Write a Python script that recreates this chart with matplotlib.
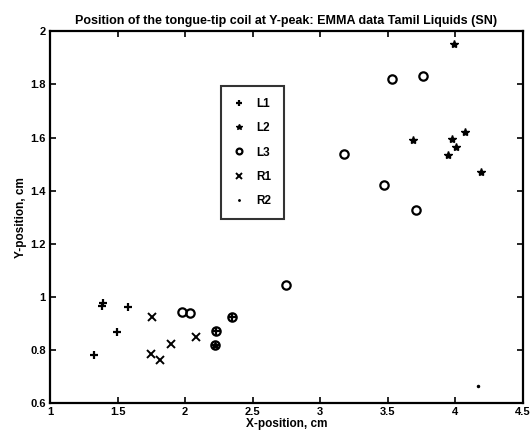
import matplotlib
matplotlib.use("Agg")
import matplotlib.pyplot as plt

# tongue-tip coil positions (cm)
l1_x = [1.325, 1.382, 1.394, 1.498, 1.574, 2.232, 2.347]
l1_y = [0.781, 0.964, 0.975, 0.866, 0.963, 0.869, 0.922]

l2_x = [3.986, 3.683, 3.974, 4.067, 4.003, 3.947, 4.190, 2.221]
l2_y = [1.953, 1.589, 1.596, 1.620, 1.566, 1.533, 1.469, 0.817]

l3_x = [3.531, 3.762, 3.174, 3.474, 3.705, 2.743, 1.977, 2.034, 2.347, 2.231, 2.221]
l3_y = [1.822, 1.832, 1.538, 1.421, 1.326, 1.046, 0.942, 0.939, 0.922, 0.869, 0.817]

r1_x = [1.756, 1.751, 1.818, 1.894, 2.083]
r1_y = [0.924, 0.786, 0.762, 0.820, 0.849]

r2_x = [4.168]
r2_y = [0.662]

x_ticks = [1, 1.5, 2, 2.5, 3, 3.5, 4, 4.5]
x_labels = ["1", "1.5", "2", "2.5", "3", "3.5", "4", "4.5"]
y_ticks = [0.6, 0.8, 1.0, 1.2, 1.4, 1.6, 1.8, 2.0]
y_labels = ["0.6", "0.8", "1", "1.2", "1.4", "1.6", "1.8", "2"]

plt.rcParams['font.family'] = ['Liberation Sans', 'DejaVu Sans']
plt.rcParams['font.weight'] = 'bold'

fig = plt.figure(figsize=(5.31, 4.36), dpi=100)
ax = fig.add_axes([0.094, 0.076, 0.891, 0.852])

ax.plot(l1_x, l1_y, '+', color='k', ms=6, mew=1.6, label='L1')
ax.plot(l2_x, l2_y, '*', color='k', ms=6, mew=1.0, label='L2')
ax.plot(l3_x, l3_y, 'o', color='k', mfc='none', ms=6, mew=1.6, label='L3')
ax.plot(r1_x, r1_y, 'x', color='k', ms=6, mew=1.4, label='R1')
ax.plot(r2_x, r2_y, '.', color='k', ms=3, label='R2')

ax.set_xlim(1, 4.5)
ax.set_ylim(0.6, 2)
ax.set_xticks(x_ticks)
ax.set_xticklabels(x_labels)
ax.set_yticks(y_ticks)
ax.set_yticklabels(y_labels)
ax.tick_params(direction='in', top=True, right=True, length=4, width=1.2,
               labelsize=8, pad=3)
for s in ax.spines.values():
    s.set_linewidth(1.6)

ax.set_xlabel('X-position, cm', fontsize=8.5, fontweight='bold', labelpad=1)
ax.set_ylabel('Y-position, cm', fontsize=8.5, fontweight='bold', labelpad=2)
ax.set_title('Position of the tongue-tip coil at Y-peak: EMMA data Tamil Liquids (SN)',
             fontsize=9, fontweight='bold', pad=5)

leg = ax.legend(loc='upper left', bbox_to_anchor=(0.362, 0.853), frameon=True,
                fancybox=False, edgecolor='k', fontsize=8.5, handlelength=1.0,
                handletextpad=1.0, labelspacing=1.05, borderpad=1.0,
                borderaxespad=0, markerscale=0.7)
leg.get_frame().set_linewidth(1.5)

fig.savefig('out.png', dpi=100)
